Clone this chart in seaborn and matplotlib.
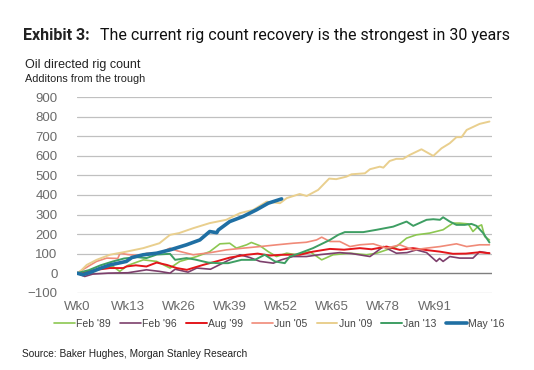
import matplotlib
matplotlib.use("Agg")
import matplotlib.pyplot as plt
import seaborn as sns
import pandas as pd
from matplotlib.lines import Line2D

# ---------------- data ----------------
wk_feb89 = [0, 3, 6, 9.2, 10.9, 13, 16.9, 20.3, 23.7, 26.2, 30.5, 33.8, 36.4, 38.9, 40.6, 43.2, 44.4, 46.6,
            48.7, 50.8, 53.4, 55.9, 59.3, 62.3, 65.2, 69.5, 73.7, 76.3, 81.3, 83.9, 86.4, 89.8, 93.2, 95.7,
            97.4, 99.6, 100.8, 102.1, 103, 103.8, 105]
val_feb89 = [0, 10, 25, 34, 9, 40, 68, 60, 26, 60, 85, 110, 150, 153, 128, 145, 157, 140,
             110, 85, 102, 94, 110, 68, 94, 102, 94, 102, 136, 179, 196, 205, 222, 256,
             256, 252, 213, 239, 247, 187, 170]

wk_feb96 = [0, 2, 4, 8, 13, 15.2, 17.7, 21, 23.7, 25, 28.3, 30.5, 34, 38, 41.5, 44, 46.6, 50, 52, 55,
            58.4, 62, 66.9, 70, 74.6, 78, 81.3, 84, 86.4, 89, 91.5, 92.3, 93.2, 94.9, 97.4, 100.8, 102.5, 105]
val_feb96 = [0, -17, -5, 0, 2, 9, 17, 9, 0, 20, 5, 26, 20, 60, 94, 80, 60, 51, 68, 85,
             85, 95, 105, 100, 85, 136, 102, 105, 119, 105, 60, 75, 60, 85, 77, 77, 110, 102]

wk_aug99 = [0, 3, 5, 8.4, 11.8, 12.6, 15, 17.7, 20.3, 22.9, 25.4, 28, 32.1, 35.5, 39, 43.2, 46, 49.1, 52,
            56.7, 60.1, 64.4, 68, 72, 75, 78.8, 82.2, 85.5, 89, 92.4, 95.7, 99, 102.5, 105]
val_aug99 = [0, 8, 17, 26, 26, 34, 40, 34, 54, 42, 26, 17, 42, 60, 80, 94, 100, 90, 94,
             94, 110, 124, 120, 128, 122, 136, 119, 128, 118, 110, 99, 100, 107, 102]

wk_jun05 = [0, 2.5, 5, 7.6, 10.4, 11, 13, 16, 17.8, 21, 23.7, 25.4, 29.6, 34, 38, 42.4, 46.6, 50.9, 55,
            58.4, 61, 62.3, 64.4, 66.9, 69.5, 72, 75.4, 78.8, 82.2, 85.6, 89, 92.4, 96.6, 99.2, 102.5, 105]
val_jun05 = [0, 30, 60, 77, 75, 102, 95, 90, 102, 102, 128, 115, 94, 105, 119, 128, 136, 145, 153,
             158, 170, 184, 162, 162, 136, 145, 150, 128, 145, 119, 128, 136, 150, 136, 145, 145]

wk_jun09 = [0, 0.8, 2.5, 5, 8.4, 12.6, 16.9, 21, 23.7, 26, 29.6, 33.8, 38, 41.5, 44.9, 48.3, 51.7, 53.4,
            56.7, 58.5, 61.4, 64.2, 66, 68.6, 69.9, 73.3, 74.6, 77.1, 78, 79.6, 81.3, 83, 84.7, 87.7,
            90.7, 92.8, 94.9, 96.6, 97.9, 99.2, 102.5, 105]
val_jun09 = [0, 8, 42, 68, 94, 110, 128, 153, 196, 205, 230, 256, 273, 307, 324, 366, 358, 384,
             405, 395, 426, 484, 481, 494, 506, 511, 532, 545, 540, 574, 585, 585, 605, 634,
             600, 639, 665, 696, 696, 733, 764, 776]

wk_jan13 = [0, 3, 6, 9.2, 12, 15.2, 17.7, 20.3, 23.7, 25, 27.9, 30, 33.4, 36, 38.5, 41.9, 45.3, 47.8,
            50.4, 52.9, 54.2, 56.7, 60.1, 64.4, 66.5, 68.2, 72.9, 76.3, 80.5, 83.9, 85.6, 89, 90.7,
            92.4, 93.2, 94.9, 96.6, 98.7, 100.4, 101.7, 103.4, 105]
val_jan13 = [0, 15, 40, 60, 75, 82, 77, 95, 99, 68, 77, 70, 54, 51, 51, 68, 68, 94,
             60, 51, 85, 102, 128, 170, 196, 210, 210, 222, 238, 264, 242, 273, 276,
             273, 286, 264, 247, 247, 252, 242, 205, 157]

wk_may16 = [0, 1.5, 3.3, 6, 8.4, 12.6, 14, 16.9, 20.3, 23.7, 27.9, 31.3, 33.8, 35.6, 36, 38.9, 42.3,
            45.7, 48.7, 52.1]
val_may16 = [0, -8, 3, 25, 42, 60, 80, 94, 102, 119, 145, 170, 213, 207, 221, 264, 290,
             324, 358, 380]

series_names = ["Feb '89", "Feb '96", "Aug '99", "Jun '05", "Jun '09", "Jan '13", "May '16"]
series_weeks = [wk_feb89, wk_feb96, wk_aug99, wk_jun05, wk_jun09, wk_jan13, wk_may16]
series_vals = [val_feb89, val_feb96, val_aug99, val_jun05, val_jun09, val_jan13, val_may16]

tick_weeks = [0, 13, 26, 39, 52, 65, 78, 91]
tick_labels = ["Wk0", "Wk13", "Wk26", "Wk39", "Wk52", "Wk65", "Wk78", "Wk91"]
y_ticks = list(range(-100, 901, 100))

# ---------------- style ----------------
colors = ["#8CC751", "#7D3F6C", "#E3161B", "#F08A78", "#E9CF8E", "#3E9E63", "#1F6FA3"]
widths = [1.2, 1.2, 1.4, 1.2, 1.4, 1.4, 2.6]

sns.set_theme(style="white")
plt.rcParams['font.family'] = ['Liberation Sans', 'DejaVu Sans']

fig = plt.figure(figsize=(5.34, 3.70), dpi=100)
ax = fig.add_axes([0.144, 0.209, 0.777, 0.528])

frames = []
for n, w, v in zip(series_names, series_weeks, series_vals):
    frames.append(pd.DataFrame({"week": w, "value": v, "series": n}))
df = pd.concat(frames, ignore_index=True)

for n, c, lw in zip(series_names, colors, widths):
    sub = df[df["series"] == n]
    sns.lineplot(data=sub, x="week", y="value", ax=ax, color=c, linewidth=lw,
                 sort=False, estimator=None, legend=False, zorder=3 if n == "May '16" else 2)

ax.set_xlim(0, 105.6)
ax.set_ylim(-100, 900)
ax.set_yticks(y_ticks)
ax.set_xticks(tick_weeks)
ax.set_xticklabels(tick_labels)
for yt in y_ticks:
    if yt == 0:
        ax.axhline(0, color="#7F7F7F", linewidth=1.0, zorder=1)
    else:
        ax.axhline(yt, color="#C0C0C0", linewidth=0.9, zorder=0)
for s in ax.spines.values():
    s.set_visible(False)
ax.tick_params(axis="both", length=0, labelsize=9.5, colors="#6B6B6B")
ax.tick_params(axis="y", pad=14)
ax.tick_params(axis="x", pad=6)
ax.set_xlabel("")
ax.set_ylabel("")

# titles
fig.text(23 / 534, 1 - 40 / 370, "Exhibit 3:", fontsize=11.5, fontweight="bold",
         family=["Roboto", "DejaVu Sans"], color="#222222", va="baseline")
fig.text(100 / 534, 1 - 40 / 370, "The current rig count recovery is the strongest in 30 years",
         fontsize=11.5, family=["Roboto", "DejaVu Sans"], color="#111111", va="baseline")
fig.text(25 / 534, 1 - 68 / 370, "Oil directed rig count", fontsize=9, color="#222222", va="baseline")
fig.text(25 / 534, 1 - 82 / 370, "Additons from the trough", fontsize=7.8, color="#222222", va="baseline")
fig.text(22 / 534, 1 - 357 / 370, "Source: Baker Hughes, Morgan Stanley Research", fontsize=7.3,
         color="#222222", va="baseline")

handles = [Line2D([0], [0], color=c, linewidth=lw) for c, lw in zip(colors, widths)]
fig.legend(handles, series_names, loc="center", bbox_to_anchor=(279 / 534, 1 - 324 / 370),
           ncol=7, frameon=False, fontsize=7.5, handlelength=2.0, handletextpad=0.1,
           columnspacing=0.9, labelcolor="#444444")

fig.savefig("out.png", dpi=100)
